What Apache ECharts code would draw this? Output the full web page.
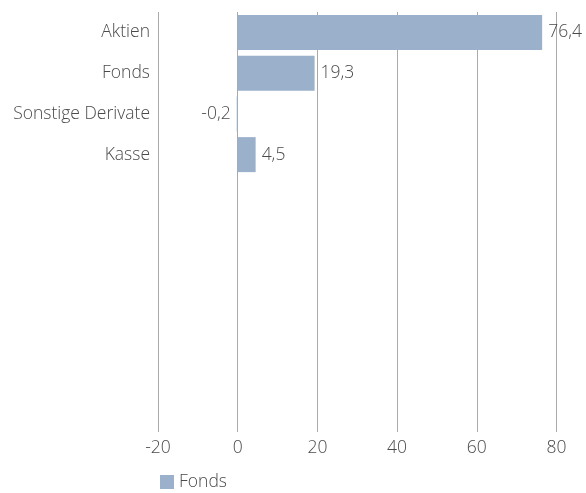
<!DOCTYPE html>
<html>
<head>
<meta charset="utf-8">
<script src="https://cdn.jsdelivr.net/npm/echarts@6/dist/echarts.min.js"></script>
<style>html,body{margin:0;padding:0;background:#fff}#c{width:586px;height:493px}</style>
</head>
<body>
<div id="c"></div>
<script>
var categories = ['Aktien', 'Fonds', 'Sonstige Derivate', 'Kasse'];
var values = [76.4, 19.3, -0.2, 4.5];
var seriesName = 'Fonds';
var xTicks = {min: -20, max: 80, interval: 20};

var FONT = 'Open Sans';
var FW = 300;
var FS = 17.5;
var TXT = '#4a4a4a';
var BAR = '#9bb0cb';
function fmt(v) { return String(v).replace('.', ','); }

var chart = echarts.init(document.getElementById('c'));
chart.setOption({
  animation: false,
  textStyle: {fontFamily: FONT, fontWeight: FW},
  grid: [
    {left: 158, right: 29.5, top: 12, bottom: 61},
    {left: 158, right: 29.5, top: 12, height: 163}
  ],
  legend: {
    data: [seriesName], left: 160, top: 473, padding: 0, icon: 'rect', itemWidth: 14, itemHeight: 14,
    textStyle: {fontFamily: FONT, fontWeight: FW, fontSize: FS, color: TXT}
  },
  xAxis: [
    {gridIndex: 0, type: 'value', min: xTicks.min, max: xTicks.max, interval: xTicks.interval,
     axisLine: {show: false}, axisTick: {show: false},
     axisLabel: {fontFamily: FONT, fontWeight: FW, fontSize: FS, color: TXT, margin: 7},
     splitLine: {lineStyle: {color: '#aaa', width: 1}}},
    {gridIndex: 1, type: 'value', min: xTicks.min, max: xTicks.max, interval: xTicks.interval, show: false}
  ],
  yAxis: [
    {gridIndex: 0, type: 'value', show: false},
    {gridIndex: 1, type: 'category', inverse: true, data: categories,
     axisLine: {show: false}, axisTick: {show: false},
     axisLabel: {fontFamily: FONT, fontWeight: FW, fontSize: FS, color: TXT, margin: 8}}
  ],
  series: [{
    name: seriesName, type: 'bar', xAxisIndex: 1, yAxisIndex: 1, barWidth: 35, barMinHeight: 1,
    itemStyle: {color: BAR},
    label: {show: true, position: 'right', distance: 6, fontFamily: FONT, fontWeight: FW, fontSize: FS, color: TXT,
            formatter: function (p) { return fmt(p.value); }},
    data: values.map(function (v) {
      return v < 0 ? {value: v, label: {position: 'left'}} : v;
    })
  }]
});
</script>
</body>
</html>
